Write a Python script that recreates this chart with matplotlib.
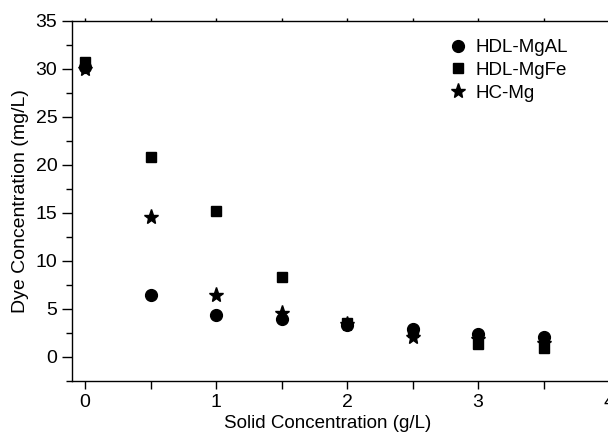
import matplotlib.pyplot as plt
from matplotlib.ticker import MultipleLocator

plt.rcParams['font.family'] = ['Liberation Sans', 'DejaVu Sans']

# data
solid = [0, 0.5, 1, 1.5, 2, 2.5, 3, 3.5]
hdl_mgal = [30.2, 6.4, 4.3, 3.9, 3.3, 2.9, 2.4, 2.0]
hdl_mgfe = [30.7, 20.8, 15.2, 8.3, 3.5, 2.6, 1.3, 0.9]
hc_mg = [30.0, 14.6, 6.4, 4.6, 3.4, 2.1, 1.8, 1.4]

fig = plt.figure(figsize=(6.08, 4.32), dpi=100)
ax = fig.add_axes([0.1184, 0.1188, 0.905, 0.833])

ax.plot(solid, hdl_mgal, 'o', color='black', ms=8.5, label='HDL-MgAL')
ax.plot(solid, hdl_mgfe, 's', color='black', ms=7.5, label='HDL-MgFe')
ax.plot(solid, hc_mg, '*', color='black', ms=11, label='HC-Mg')

ax.set_xlim(-0.1, 4.1)
ax.set_ylim(-2.5, 35)
ax.xaxis.set_major_locator(MultipleLocator(1))
ax.xaxis.set_minor_locator(MultipleLocator(0.5))
ax.yaxis.set_major_locator(MultipleLocator(5))
ax.yaxis.set_minor_locator(MultipleLocator(2.5))

ax.spines['right'].set_visible(False)
for sp in ax.spines.values():
    sp.set_linewidth(1.0)

ax.tick_params(axis='both', which='both', direction='out', labelsize=14, width=1.0)
ax.tick_params(axis='y', which='major', length=7)
ax.tick_params(axis='y', which='minor', length=4)
ax.tick_params(axis='x', which='both', length=6, top=True)
# top ticks are only tiny marks in the original
for t in ax.xaxis.get_major_ticks() + ax.xaxis.get_minor_ticks():
    t.tick2line.set_markersize(2)

ax.set_xlabel('Solid Concentration (g/L)', fontsize=13.5)
ax.set_ylabel('Dye Concentration (mg/L)', fontsize=14)
ax.xaxis.set_label_coords(0.464, -0.095)
ax.yaxis.set_label_coords(-0.078, 0.5)

ax.legend(loc='upper left', bbox_to_anchor=(0.668, 0.97), frameon=False,
          fontsize=13.5, handletextpad=0.3, labelspacing=0.3, handlelength=1.2,
          borderaxespad=0)

plt.savefig('out.png', dpi=100)
